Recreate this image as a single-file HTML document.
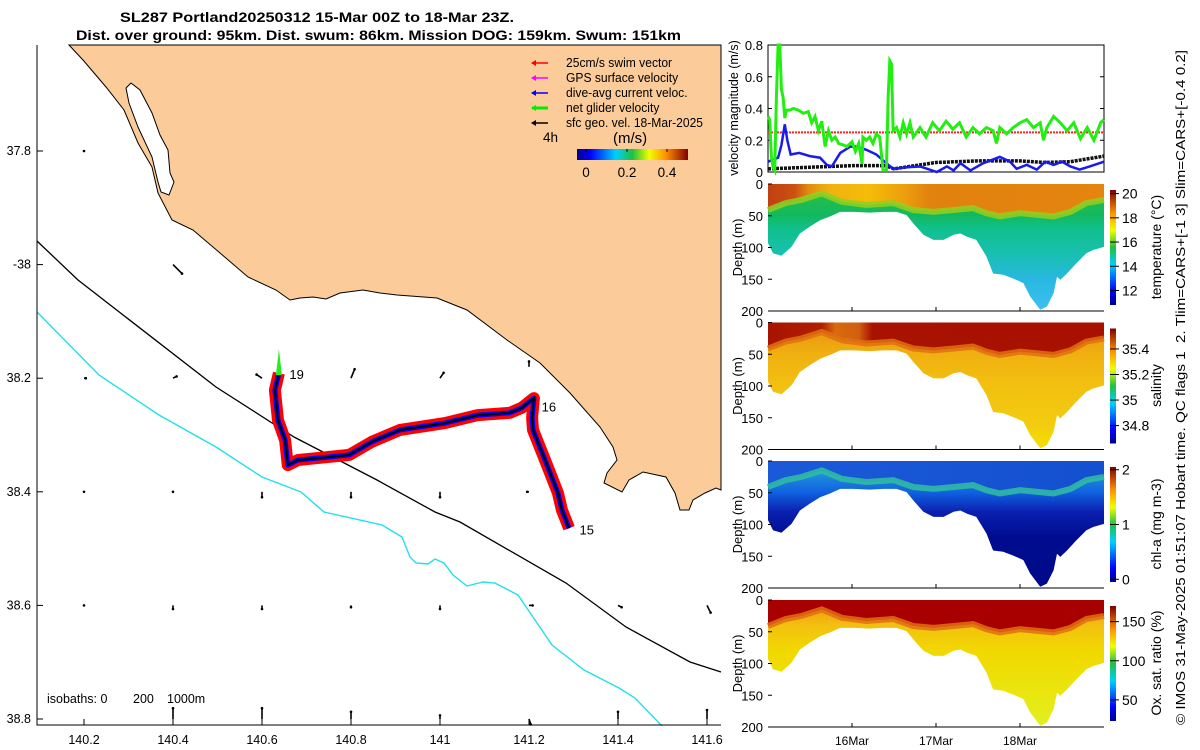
<!DOCTYPE html>
<html><head><meta charset="utf-8"><style>
html,body{margin:0;padding:0;background:#fff;}
svg{display:block;font-family:"Liberation Sans",sans-serif;}
</style></head><body>
<svg id="fig" width="1200" height="750" viewBox="0 0 1200 750" xmlns="http://www.w3.org/2000/svg">
<defs>
<linearGradient id="jet" x1="0" x2="1" y1="0" y2="0">
<stop offset="0" stop-color="#00008f"/><stop offset="0.12" stop-color="#0000ff"/><stop offset="0.35" stop-color="#00d0ff"/><stop offset="0.5" stop-color="#20c040"/><stop offset="0.65" stop-color="#f0ff00"/><stop offset="0.8" stop-color="#ff9000"/><stop offset="1" stop-color="#800000"/>
</linearGradient>
<linearGradient id="jetv" x1="0" x2="0" y1="1" y2="0">
<stop offset="0" stop-color="#00008f"/><stop offset="0.12" stop-color="#0000ff"/><stop offset="0.35" stop-color="#00d0ff"/><stop offset="0.5" stop-color="#20c040"/><stop offset="0.65" stop-color="#f0ff00"/><stop offset="0.8" stop-color="#ff9000"/><stop offset="1" stop-color="#800000"/>
</linearGradient>
</defs>
<g id="title" font-weight="bold" font-size="14">
<text x="120" y="22" textLength="394" lengthAdjust="spacingAndGlyphs">SL287 Portland20250312 15-Mar 00Z to 18-Mar 23Z.</text>
<text x="76" y="40" textLength="605" lengthAdjust="spacingAndGlyphs">Dist. over ground: 95km. Dist. swum: 86km. Mission DOG: 159km. Swum: 151km</text>
</g>
<g id="map"></g>
<g id="vel"></g>
<g id="sections"></g>
<text transform="translate(1185,725) rotate(-90)" font-size="13" textLength="675" lengthAdjust="spacingAndGlyphs" xml:space="preserve">© IMOS 31-May-2025 01:51:07 Hobart time. QC flags 1  2. Tlim=CARS+[-1 3] Slim=CARS+[-0.4 0.2]</text>
</svg>
<script>
// ---------- data ----------
const trackLon=[141.290,141.274,141.265,141.236,141.209,141.207,141.211,141.184,141.157,141.085,141.011,140.910,140.847,140.796,140.733,140.681,140.658,140.652,140.636,140.629,140.638];
const trackLat=[38.464,38.432,38.402,38.344,38.291,38.270,38.235,38.252,38.261,38.265,38.279,38.291,38.312,38.335,38.340,38.344,38.353,38.309,38.274,38.221,38.191];
const dayLabels=["15","16","19"];
const dayLabelLon=[141.30,141.215,140.648];
const dayLabelLat=[38.466,38.250,38.193];
const lonTicks=[140.2,140.4,140.6,140.8,141,141.2,141.4,141.6];
const latTicks=[37.8,38,38.2,38.4,38.6,38.8];
const latTickLabels=["37.8","-38","38.2","38.4","38.6","38.8"];
const geoLon=[140.2,140.4,140.6,140.8,141,141.2,140.2,140.4,140.6,140.8,141,141.2,140.2,140.4,140.6,140.8,141,141.2,141.4,141.6,140.4,140.6,140.8,141,141.2,141.4,141.6,140.2,140.4];
const geoLat=[38.2,38.2,38.2,38.2,38.2,38.18,38.4,38.4,38.4,38.4,38.4,38.4,38.6,38.6,38.6,38.6,38.6,38.6,38.6,38.6,38.8,38.8,38.8,38.8,38.8,38.8,38.8,37.8,38];
const geoU=[0.01,0.02,-0.03,0.02,0.02,0,0,0,0,0,0,-0.01,0,0,0,0,0,0.02,0.02,0.02,0,0,0,0,0.01,0,0,0,0.05];
const geoV=[0,-0.01,-0.02,-0.05,-0.03,-0.03,0,0,0.03,0.03,0.03,0,0,0.02,0.02,0.01,0.02,0,0.01,0.04,-0.06,-0.06,-0.04,-0.02,0.03,-0.04,-0.05,0,0.05];

const velDays=[0,0.02,0.04,0.06,0.08,0.10,0.12,0.14,0.16,0.18,0.20,0.22,0.26,0.30,0.36,0.42,0.48,0.52,0.56,0.60,0.64,0.68,0.72,0.76,0.80,0.84,0.90,0.94,1.00,1.04,1.08,1.12,1.13,1.17,1.21,1.25,1.29,1.33,1.37,1.41,1.43,1.45,1.47,1.49,1.53,1.57,1.61,1.65,1.69,1.73,1.81,1.88,1.96,2.04,2.12,2.20,2.28,2.36,2.44,2.52,2.60,2.68,2.72,2.76,2.84,2.92,3.00,3.08,3.16,3.24,3.28,3.32,3.40,3.48,3.56,3.64,3.72,3.80,3.88,3.96,4.00];
const netGlider=[0.35,0.33,0.10,0.03,0.01,0.47,0.80,0.80,0.52,0.47,0.34,0.39,0.39,0.40,0.39,0.37,0.38,0.31,0.35,0.26,0.32,0.16,0.26,0.20,0.22,0.18,0.17,0.16,0.19,0.13,0.18,0.05,0.22,0.20,0.22,0.18,0.24,0.22,0.01,0.01,0.47,0.70,0.68,0.26,0.28,0.22,0.31,0.24,0.31,0.22,0.28,0.22,0.31,0.26,0.32,0.27,0.31,0.22,0.28,0.24,0.28,0.26,0.18,0.28,0.24,0.28,0.31,0.33,0.28,0.31,0.20,0.28,0.35,0.31,0.26,0.31,0.21,0.28,0.20,0.31,0.33];
const curDays=[0,0.12,0.16,0.20,0.23,0.27,0.37,0.50,0.62,0.70,0.76,0.86,0.98,1.06,1.17,1.29,1.41,1.49,1.65,1.81,2.01,2.13,2.21,2.29,2.41,2.56,2.76,2.88,2.96,3.08,3.20,3.30,3.40,3.50,3.60,3.71,3.83,4.00];
const diveCurrent=[0.065,0.09,0.17,0.30,0.20,0.11,0.12,0.10,0.09,0.045,0.035,0.12,0.16,0.16,0.14,0.11,0.055,0.02,0.03,0.035,0.0,0.035,0.01,0.055,0.01,0.055,0.095,0.065,0.02,0.045,0.015,0.065,0.045,0.065,0.035,0.015,0.035,0.065];
const geoDays=[0,0.5,1.0,1.4,1.5,2.0,2.5,3.0,3.3,3.6,4.0];
const geoVel=[0.02,0.03,0.04,0.04,0.02,0.06,0.07,0.07,0.06,0.065,0.10];
const swimTarget=0.25;
const velTicks=[0,0.2,0.4,0.6,0.8];

const secDays=[0,0.06,0.16,0.28,0.38,0.5,0.62,0.74,0.86,1.02,1.21,1.37,1.53,1.65,1.73,1.85,1.97,2.09,2.21,2.29,2.37,2.48,2.6,2.68,2.8,2.92,3.04,3.12,3.24,3.32,3.40,3.44,3.48,3.56,3.67,3.79,3.87,4.0];
const bottomDepth=[93,109,113,99,78,67,57,51,44,44,45,44,44,49,62,80,88,88,80,78,83,88,114,141,143,149,156,177,198,193,172,146,151,141,125,109,104,99];
const mldDays=[0,0.21,0.4,0.64,0.88,1.17,1.49,1.73,1.97,2.21,2.44,2.6,2.76,3.0,3.24,3.4,3.6,3.79,4.0];
const mldDepth=[41,30,25,15,28,33,30,41,44,41,38,46,51,46,49,51,44,30,25];
const depthTicks=[0,50,100,150,200];
const dateTicks=[1,2,3];
const dateLabels=["16Mar","17Mar","18Mar"];
const tempTicks=[12,14,16,18,20], tempRange=[10.8,20.3];
const salTicks=[34.8,35,35.2,35.4], salRange=[34.66,35.56];
const chlTicks=[0,1,2], chlRange=[-0.05,2.05];
const oxTicks=[50,100,150], oxRange=[23,170];

// ---------- helpers ----------
const NS="http://www.w3.org/2000/svg";
function mk(parent,tag,attrs,txt){const e=document.createElementNS(NS,tag);for(const k in attrs)e.setAttribute(k,attrs[k]);if(txt!==undefined)e.textContent=txt;parent.appendChild(e);return e;}

// ---------- map ----------
const map=document.getElementById('map');
const lonX=l=>84+(l-140.2)/0.2*89;
const latY=l=>151+(l-37.8)/0.2*113.6;
let e;
e=mk(map,'rect',{x:37,y:45,width:684,height:680,fill:'#fff'});


e=mk(map,'path',{d:'M69,45 L83,60 L106,87 L124,110 L138,143 L152,167 L158,193 L172,220 L193,230 L220,253 L248,277 L276,290 L290,300 L300,298 L313,297 L326,299 L340,293 L363,290 L380,293 L397,295 L437,298 L467,310 L507,340 L540,363 L570,393 L600,427 L613,447 L617,460 L607,473 L604,483 L622,492 L629,480 L643,472 L666,477 L675,493 L680,510 L689,510 L693,500 L705,493 L716,488 L721,490 L721,45 Z',fill:'#fbcb99',stroke:'#000','stroke-width':1});


e=mk(map,'path',{d:'M131,83 L140,90 L152,113 L160,135 L168,150 L170,173 L174,182 L169,195 L161,192 L158,182 L152,157 L138,127 L129,103 L126,88 Z',fill:'#fff',stroke:'#000','stroke-width':1});


e=mk(map,'path',{d:'M37,241 L78,280 L216,387 L294,437 L377,480 L435,512 L460,522 L566,583 L626,627 L690,662 L721,672',fill:'none',stroke:'#000','stroke-width':1.3});


e=mk(map,'path',{d:'M37,312 L99,375 L159,415 L216,447 L262,477 L301,492 L324,512 L382,525 L402,537 L410,557 L416,563 L428,564 L435,559 L444,563 L453,575 L467,586 L483,582 L495,583 L518,595 L552,645 L584,670 L619,688 L635,698 L662,726',fill:'none',stroke:'#22e0e8','stroke-width':1.4});


for(let i=0;i<geoLon.length;i++){
  const x=lonX(geoLon[i]),y=latY(geoLat[i]);
  e=mk(map,'line',{x1:x,y1:y,x2:x+geoU[i]*180,y2:y+geoV[i]*180,stroke:'#000','stroke-width':1.6});
  
  
  e=mk(map,'circle',{cx:x+geoU[i]*180,cy:y+geoV[i]*180,r:1.3,fill:'#000'});
  
  
}
const tp=trackLon.map((l,i)=>lonX(l).toFixed(1)+','+latY(trackLat[i]).toFixed(1)).join(' ');
e=mk(map,'polyline',{points:tp,fill:'none',stroke:'#ff0000','stroke-width':12,'stroke-linejoin':'round'});


e=mk(map,'polyline',{points:tp,fill:'none',stroke:'#0000ff','stroke-width':5,'stroke-linejoin':'round'});


e=mk(map,'polyline',{points:tp,fill:'none',stroke:'#000','stroke-width':2});


{const n=trackLon.length-1;const x=lonX(trackLon[n]),y=latY(trackLat[n]);
e=mk(map,'path',{d:`M${x-3},${y+2} L${x},${y-24} L${x+3},${y+2} Z`,fill:'#22ee22'});

}
dayLabels.forEach((t,i)=>{e=mk(map,'text',{x:lonX(dayLabelLon[i])+6,y:latY(dayLabelLat[i])+5,'font-size':13},t);

});
// axes
e=mk(map,'path',{d:'M37,45 L37,725 L721,725',fill:'none',stroke:'#000','stroke-width':1});


lonTicks.forEach(l=>{const x=lonX(l);mk(map,'line',{x1:x,y1:725,x2:x,y2:719,stroke:'#000'});
e=mk(map,'text',{x:x,y:744,'font-size':12.5,'text-anchor':'middle'},String(l));

});
latTicks.forEach((l,i)=>{const y=latY(l);mk(map,'line',{x1:37,y1:y,x2:43,y2:y,stroke:'#000'});
e=mk(map,'text',{x:31,y:y+4,'font-size':12.5,'text-anchor':'end'},latTickLabels[i]);

});
e=mk(map,'text',{x:47,y:703,'font-size':12.5},'isobaths: 0');


e=mk(map,'text',{x:133,y:703,'font-size':12.5},'200');


e=mk(map,'text',{x:167,y:703,'font-size':12.5},'1000m');


// legend
const legCols=['#ff0000','#ff00ff','#0000ff','#00ee00','#000000'];
const legTxt=['25cm/s swim vector','GPS surface velocity','dive-avg current veloc.','net glider velocity','sfc geo. vel. 18-Mar-2025'];
legTxt.forEach((t,i)=>{const y=62+i*15;
 e=mk(map,'line',{x1:532,y1:y+1,x2:548,y2:y+1,stroke:legCols[i],'stroke-width':i==3?3:1.5});
 
 
 mk(map,'path',{d:`M531,${y+1} L536,${y-2} L536,${y+4} Z`,fill:legCols[i]});
 e=mk(map,'text',{x:566,y:y+5,'font-size':13,'transform':`translate(566,0) scale(0.93,1) translate(-566,0)`},t);
 
 });
e=mk(map,'text',{x:543,y:142,'font-size':13.5},'4h');


e=mk(map,'text',{x:613,y:143,'font-size':15},'(m/s)');


e=mk(map,'rect',{x:577,y:149,width:111,height:11,fill:'url(#jet)'});


[[0,586],[0.2,627],[0.4,667]].forEach(p=>{mk(map,'line',{x1:p[1],y1:149,x2:p[1],y2:152,stroke:'#000'});
e=mk(map,'text',{x:p[1],y:177,'font-size':13.5,'text-anchor':'middle'},String(p[0]));

});

// ---------- velocity panel ----------
const vel=document.getElementById('vel');
const X0=768,X1=1104;
const tX=d=>X0+d*84;
const vY=v=>172-v/0.8*127;
e=mk(vel,'rect',{x:X0,y:45,width:X1-X0,height:127,fill:'#fff',stroke:'#000'});


velTicks.forEach(v=>{const y=vY(v);mk(vel,'line',{x1:X0,y1:y,x2:X0+4,y2:y,stroke:'#000'});mk(vel,'line',{x1:X1,y1:y,x2:X1-4,y2:y,stroke:'#000'});
e=mk(vel,'text',{x:763,y:y+5,'font-size':13,'text-anchor':'end'},String(v));

});
e=mk(vel,'text',{transform:'translate(738,108) rotate(-90)','font-size':12.5,'text-anchor':'middle'},'velocity magnitude (m/s)');


e=mk(vel,'line',{x1:tX(0),y1:vY(swimTarget),x2:tX(4),y2:vY(swimTarget),stroke:'#ff2020','stroke-width':2,'stroke-dasharray':'2,1'});


e=mk(vel,'polyline',{points:geoDays.map((d,i)=>tX(d)+','+vY(geoVel[i])).join(' '),fill:'none',stroke:'#111','stroke-width':3.5,'stroke-dasharray':'3,1'});


e=mk(vel,'polyline',{points:curDays.map((d,i)=>tX(d)+','+vY(diveCurrent[i])).join(' '),fill:'none',stroke:'#1a1aee','stroke-width':2.5});


e=mk(vel,'polyline',{points:velDays.map((d,i)=>tX(d)+','+vY(netGlider[i])).join(' '),fill:'none',stroke:'#22ee11','stroke-width':3});



// ---------- sections ----------
const sec=document.getElementById('sections');
const panels=[
 {top:184,name:'temperature',label:'temperature (°C)',ticks:tempTicks,range:tempRange,
  surf:[['0','#c04010'],['0.08','#cc5012'],['0.12','#e08a10'],['0.18','#f2b010'],['0.3','#f4bc08'],['0.4','#eca00e'],['0.48','#e2820e'],['1','#e58510']],
  band:'#90d020',deep:[[0,'#30c040'],[50,'#12b860'],[70,'#10c08c'],[110,'#18c0b0'],[150,'#28b8e0'],[200,'#40c0f0']]},
 {top:322.5,name:'salinity',label:'salinity',ticks:salTicks,range:salRange,
  surf:[['0','#a81200'],['0.16','#b02000'],['0.2','#d86a10'],['0.27','#d06010'],['0.31','#a81200'],['1','#a81000']],
  band:'#e07010',deep:[[0,'#e89010'],[50,'#f0b010'],[100,'#f2c010'],[160,'#f2cc10'],[200,'#f4e000']]},
 {top:461,name:'chl-a',label:'chl-a (mg m-3)',ticks:chlTicks,range:chlRange,
  surf:[['0','#1a5ad8'],['1','#1450d0']],
  band:'#30c0a0',deep:[[0,'#28b0d8'],[50,'#1060e0'],[80,'#0a20b0'],[120,'#000c90'],[200,'#000a88']]},
 {top:600,name:'oxygen',label:'Ox. sat. ratio (%)',ticks:oxTicks,range:oxRange,
  surf:[['0','#a80000'],['1','#a80000']],
  band:'#e07010',deep:[[0,'#f09010'],[40,'#f2c010'],[80,'#f2d800'],[150,'#eae610'],[200,'#e0f020']]}
];
const defs=document.querySelector('defs');
panels.forEach((p,pi)=>{
 const dY=d=>p.top+d/200*127;
 const g=mk(sec,'g',{});
 
 
 const sg=mk(defs,'linearGradient',{id:'s'+pi,gradientUnits:'userSpaceOnUse',x1:X0,x2:X1,y1:0,y2:0});
 p.surf.forEach(s=>mk(sg,'stop',{offset:s[0],'stop-color':s[1]}));
 const dg=mk(defs,'linearGradient',{id:'d'+pi,gradientUnits:'userSpaceOnUse',x1:0,x2:0,y1:dY(0),y2:dY(200)});
 p.deep.forEach(s=>mk(dg,'stop',{offset:s[0]/200,'stop-color':s[1]}));
 const bottomPts=secDays.map((d,i)=>tX(d).toFixed(1)+','+dY(bottomDepth[i]).toFixed(1));
 e=mk(g,'polygon',{points:tX(0)+','+dY(0)+' '+tX(4)+','+dY(0)+' '+bottomPts.slice().reverse().join(' '),fill:'url(#d'+pi+')'});
 
 
 const mldPts=mldDays.map((d,i)=>tX(d).toFixed(1)+','+dY(mldDepth[i]).toFixed(1));
 e=mk(g,'polygon',{points:tX(0)+','+dY(0)+' '+tX(4)+','+dY(0)+' '+mldPts.slice().reverse().join(' '),fill:'url(#s'+pi+')'});
 
 
 e=mk(g,'polyline',{points:mldPts.join(' '),fill:'none',stroke:p.band,'stroke-width':6,opacity:0.85});
 
 
 e=mk(g,'line',{x1:X0,y1:dY(200),x2:X1,y2:dY(200),stroke:'#000'});
 
 
 depthTicks.forEach(d=>{const y=dY(d);mk(g,'line',{x1:X0,y1:y,x2:X0+4,y2:y,stroke:'#000'});
  e=mk(g,'text',{x:763,y:y+5,'font-size':13,'text-anchor':'end'},String(d));
  
  });
 dateTicks.forEach(d=>mk(g,'line',{x1:tX(d),y1:dY(200),x2:tX(d),y2:dY(200)-4,stroke:'#000'}));
 e=mk(g,'text',{transform:`translate(742,${dY(100)}) rotate(-90)`,'font-size':13,'text-anchor':'middle'},'Depth (m)');
 
 
 const cbTop=p.top+6,cbBot=p.top+121;
 const cY=v=>cbBot-(v-p.range[0])/(p.range[1]-p.range[0])*(cbBot-cbTop);
 e=mk(g,'rect',{x:1110,y:cbTop,width:6,height:cbBot-cbTop,fill:'url(#jetv)'});
 
 
 p.ticks.forEach(v=>{const y=cY(v);mk(g,'line',{x1:1110,y1:y,x2:1119,y2:y,stroke:'#000'});
  e=mk(g,'text',{x:1122,y:y+5,'font-size':14},String(v));
  
  });
 e=mk(g,'text',{transform:`translate(1161,${p.top+63}) rotate(-90)`,'font-size':14,'text-anchor':'middle'},p.label);
 
 
});
dateTicks.forEach((d,i)=>{e=mk(sec,'text',{x:tX(d),y:745,'font-size':12,'text-anchor':'middle'},dateLabels[i]);

});
</script>
</body></html>
